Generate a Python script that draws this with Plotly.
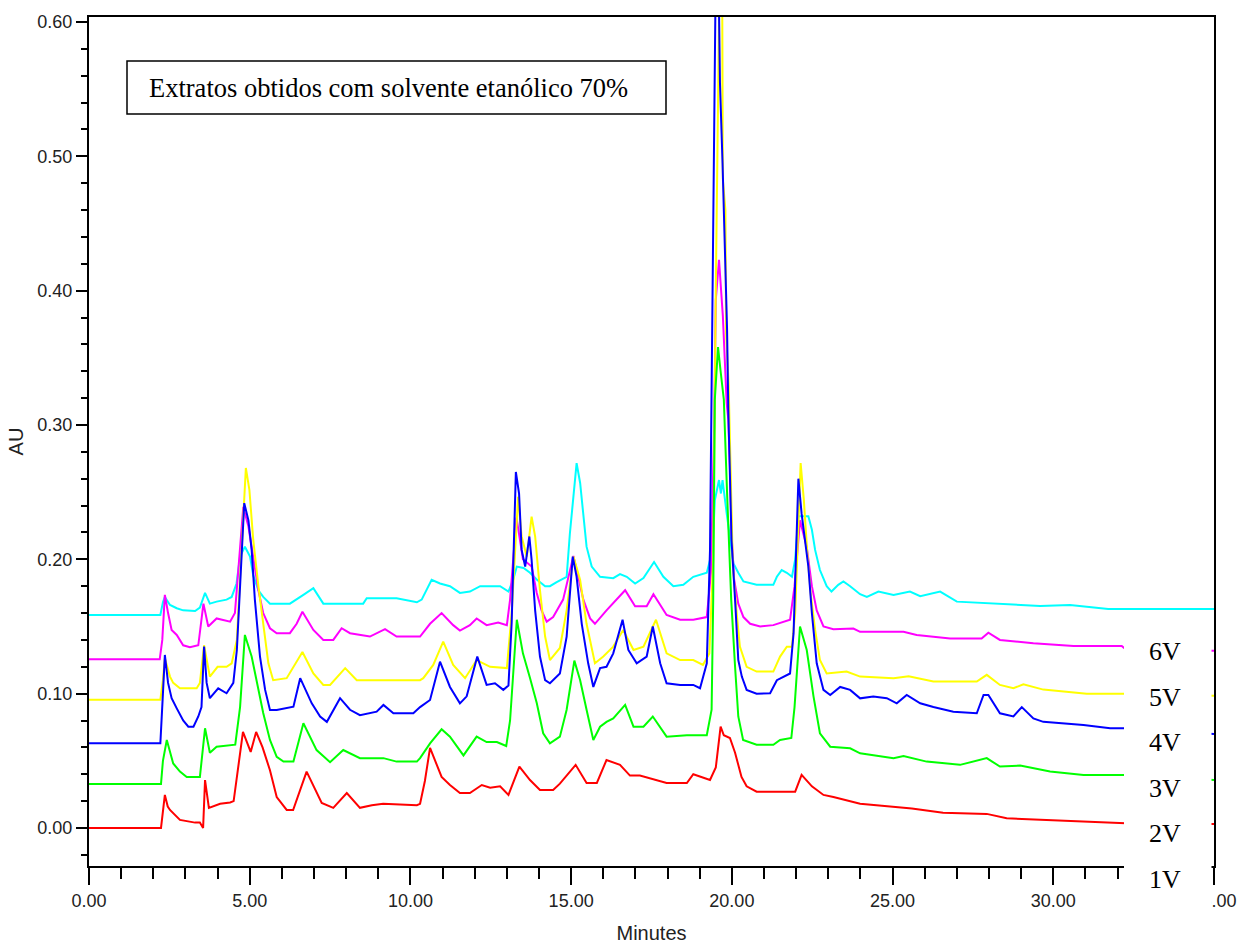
import plotly.graph_objects as go

# ---- data: (time in minutes, absorbance AU) ----
red_2V = [(0, 0.0), (2.24, 0.0), (2.36, 0.0246), (2.45, 0.016), (2.52, 0.0134), (2.83, 0.006), (3.3, 0.004),
          (3.45, 0.004), (3.55, 0.0), (3.61, 0.0357), (3.73, 0.015), (4.08, 0.018), (4.39, 0.019), (4.5, 0.02),
          (4.79, 0.0715), (5.03, 0.0566), (5.2, 0.0715), (5.4, 0.06), (5.63, 0.043), (5.84, 0.023), (6.15, 0.0134),
          (6.35, 0.0134), (6.77, 0.042), (7.24, 0.0186), (7.6, 0.015), (8.02, 0.026), (8.43, 0.015), (8.8, 0.017),
          (9.15, 0.018), (10.2, 0.017), (10.3, 0.018), (10.45, 0.035), (10.61, 0.0596), (10.97, 0.038), (11.23, 0.032),
          (11.54, 0.026), (11.85, 0.026), (12.22, 0.032), (12.48, 0.03), (12.79, 0.031), (13.05, 0.0246), (13.39, 0.0457),
          (13.72, 0.0357), (14.03, 0.0283), (14.44, 0.0283), (14.65, 0.033), (15.14, 0.047), (15.48, 0.0335), (15.8, 0.0335),
          (15.95, 0.042), (16.1, 0.0506), (16.52, 0.047), (16.83, 0.039), (17.14, 0.039), (17.97, 0.0335), (18.6, 0.0335),
          (18.8, 0.040), (19.32, 0.0357), (19.5, 0.045), (19.65, 0.0754), (19.75, 0.069), (19.94, 0.067), (20.1, 0.056),
          (20.3, 0.038), (20.46, 0.031), (20.77, 0.027), (21.97, 0.027), (22.17, 0.0395), (22.49, 0.031), (22.85, 0.0246),
          (23.16, 0.023), (23.99, 0.018), (25.0, 0.016), (25.6, 0.0145), (26.57, 0.0114), (27.93, 0.0105), (28.55, 0.0072),
          (29.8, 0.006), (31.86, 0.0035), (32.25, 0.0035), (35.0, 0.003)]

green_3V = [(0, 0.0328), (2.24, 0.0328), (2.3, 0.05), (2.42, 0.0655), (2.62, 0.048), (2.83, 0.042), (3.04, 0.038),
            (3.45, 0.038), (3.61, 0.0742), (3.76, 0.056), (3.97, 0.0605), (4.55, 0.062), (4.7, 0.09), (4.85, 0.1437),
            (5.06, 0.1276), (5.22, 0.108), (5.42, 0.0856), (5.63, 0.0655), (5.84, 0.053), (6.05, 0.0494), (6.36, 0.0494),
            (6.67, 0.078), (7.08, 0.058), (7.5, 0.049), (7.91, 0.058), (8.43, 0.052), (9.16, 0.052), (9.57, 0.0494),
            (10.2, 0.0494), (10.3, 0.052), (10.61, 0.063), (10.97, 0.0735), (11.23, 0.068), (11.65, 0.054), (12.06, 0.068),
            (12.37, 0.064), (12.69, 0.064), (12.98, 0.061), (13.1, 0.08), (13.31, 0.155), (13.5, 0.13), (13.72, 0.1117),
            (13.93, 0.093), (14.13, 0.0705), (14.34, 0.063), (14.65, 0.068), (14.86, 0.088), (15.1, 0.1246), (15.28, 0.110),
            (15.48, 0.088), (15.69, 0.0655), (15.9, 0.0754), (16.1, 0.079), (16.31, 0.0816), (16.68, 0.0916), (16.94, 0.0754),
            (17.25, 0.0754), (17.54, 0.083), (17.97, 0.068), (18.6, 0.069), (19.22, 0.069), (19.37, 0.088), (19.42, 0.17),
            (19.47, 0.319), (19.57, 0.358), (19.65, 0.34), (19.75, 0.319), (19.85, 0.25), (19.98, 0.17), (20.1, 0.12),
            (20.2, 0.083), (20.35, 0.0655), (20.77, 0.062), (21.29, 0.062), (21.5, 0.0655), (21.85, 0.067), (21.95, 0.09),
            (22.12, 0.15), (22.33, 0.1325), (22.54, 0.098), (22.74, 0.0705), (23.06, 0.0605), (23.68, 0.0593), (23.99, 0.0556),
            (25.03, 0.052), (25.34, 0.0535), (26.06, 0.0494), (27.1, 0.047), (27.93, 0.052), (28.34, 0.0457), (28.97, 0.0465),
            (29.9, 0.042), (30.94, 0.0395), (32.25, 0.0395), (35.0, 0.0357)]

blue_4V = [(0, 0.063), (2.22, 0.063), (2.3, 0.1), (2.36, 0.1288), (2.46, 0.108), (2.57, 0.0966), (2.73, 0.089),
           (2.93, 0.080), (3.09, 0.0754), (3.25, 0.0754), (3.4, 0.083), (3.5, 0.09), (3.58, 0.135), (3.66, 0.108),
           (3.76, 0.0966), (4.02, 0.104), (4.28, 0.1003), (4.49, 0.108), (4.6, 0.1325), (4.83, 0.2418), (4.96, 0.229),
           (5.06, 0.207), (5.16, 0.17), (5.32, 0.1276), (5.48, 0.1028), (5.63, 0.0879), (5.84, 0.0879), (6.36, 0.0903),
           (6.57, 0.1115), (6.93, 0.0928), (7.19, 0.083), (7.4, 0.079), (7.81, 0.0966), (8.12, 0.088), (8.43, 0.084),
           (8.95, 0.0866), (9.16, 0.0916), (9.47, 0.0854), (10.09, 0.0854), (10.3, 0.090), (10.61, 0.0953), (10.92, 0.1238),
           (11.23, 0.105), (11.54, 0.0928), (11.75, 0.098), (12.08, 0.1276), (12.37, 0.1065), (12.63, 0.1077), (12.89, 0.1028),
           (13.05, 0.106), (13.15, 0.153), (13.28, 0.265), (13.38, 0.249), (13.46, 0.207), (13.57, 0.1946), (13.7, 0.217),
           (13.77, 0.1996), (13.88, 0.162), (14.03, 0.1276), (14.19, 0.110), (14.34, 0.1077), (14.65, 0.115), (14.86, 0.1425),
           (15.05, 0.202), (15.17, 0.187), (15.33, 0.152), (15.53, 0.1226), (15.69, 0.105), (15.9, 0.119), (16.1, 0.12),
           (16.31, 0.130), (16.6, 0.155), (16.78, 0.1325), (17.04, 0.1226), (17.35, 0.1276), (17.54, 0.150), (17.77, 0.1226),
           (17.97, 0.1077), (18.39, 0.1065), (18.8, 0.1065), (19.01, 0.104), (19.22, 0.1226), (19.32, 0.207), (19.38, 0.336),
           (19.45, 0.536), (19.5, 0.64), (19.55, 0.70), (19.6, 0.62), (19.63, 0.555), (19.71, 0.495), (19.79, 0.428),
           (19.85, 0.372), (19.89, 0.311), (19.94, 0.257), (19.99, 0.214), (20.1, 0.17), (20.2, 0.125), (20.31, 0.1127),
           (20.46, 0.1028), (20.77, 0.100), (21.19, 0.1003), (21.4, 0.110), (21.6, 0.1127), (21.81, 0.115), (21.92, 0.145),
           (22.07, 0.260), (22.17, 0.234), (22.28, 0.2144), (22.38, 0.1946), (22.49, 0.16), (22.64, 0.1226), (22.85, 0.1028),
           (23.06, 0.099), (23.37, 0.105), (23.68, 0.1028), (23.99, 0.0965), (24.4, 0.0978), (24.82, 0.0966), (25.13, 0.0928),
           (25.44, 0.099), (25.86, 0.0928), (26.27, 0.090), (26.89, 0.0866), (27.62, 0.0854), (27.83, 0.099), (27.98, 0.099),
           (28.34, 0.0854), (28.76, 0.083), (29.02, 0.090), (29.38, 0.0816), (29.69, 0.079), (30.94, 0.0767), (31.77, 0.0742),
           (32.25, 0.0742), (35.0, 0.070)]

yellow_5V = [(0, 0.0955), (2.22, 0.0955), (2.3, 0.11), (2.36, 0.1263), (2.52, 0.1127), (2.62, 0.108), (2.83, 0.104),
             (3.35, 0.104), (3.45, 0.108), (3.58, 0.136), (3.76, 0.1127), (4.0, 0.120), (4.28, 0.120), (4.44, 0.1226),
             (4.6, 0.14), (4.88, 0.268), (4.99, 0.2517), (5.11, 0.2144), (5.27, 0.18), (5.42, 0.15), (5.58, 0.1226),
             (5.73, 0.110), (6.15, 0.1115), (6.64, 0.131), (6.98, 0.115), (7.29, 0.1065), (7.5, 0.1065), (7.97, 0.119),
             (8.33, 0.110), (10.3, 0.110), (10.4, 0.1115), (10.71, 0.1214), (11.02, 0.1387), (11.33, 0.1214), (11.7, 0.1115),
             (12.06, 0.125), (12.48, 0.12), (13.0, 0.119), (13.15, 0.16), (13.35, 0.2466), (13.46, 0.217), (13.62, 0.202),
             (13.77, 0.2317), (13.88, 0.217), (14.03, 0.177), (14.19, 0.1425), (14.34, 0.125), (14.65, 0.134), (14.86, 0.162),
             (15.07, 0.202), (15.28, 0.1847), (15.48, 0.152), (15.74, 0.1226), (16.0, 0.1276), (16.31, 0.135), (16.62, 0.1474),
             (16.94, 0.1325), (17.25, 0.135), (17.64, 0.155), (17.97, 0.130), (18.39, 0.125), (18.8, 0.125), (19.1, 0.1214),
             (19.3, 0.13), (19.42, 0.2), (19.5, 0.4), (19.57, 0.58), (19.63, 0.66), (19.7, 0.62), (19.72, 0.4825), (19.8, 0.46),
             (19.82, 0.3686), (19.9, 0.33), (19.95, 0.27), (20.03, 0.195), (20.15, 0.16), (20.25, 0.135), (20.46, 0.12),
             (20.77, 0.1164), (21.29, 0.1164), (21.5, 0.1276), (21.71, 0.135), (21.87, 0.135), (21.97, 0.16), (22.14, 0.2716),
             (22.24, 0.244), (22.34, 0.207), (22.45, 0.175), (22.59, 0.1474), (22.74, 0.125), (22.95, 0.115), (23.57, 0.1164),
             (23.99, 0.1127), (25.03, 0.1115), (25.5, 0.113), (26.27, 0.109), (27.62, 0.109), (27.93, 0.114), (28.34, 0.1065),
             (28.76, 0.104), (29.07, 0.107), (29.69, 0.103), (31.04, 0.100), (32.25, 0.100), (35.0, 0.0985)]

magenta_6V = [(0, 0.1256), (2.2, 0.1256), (2.28, 0.14), (2.36, 0.1735), (2.46, 0.16), (2.57, 0.1474), (2.73, 0.1437),
              (2.93, 0.136), (3.14, 0.1345), (3.4, 0.136), (3.56, 0.167), (3.71, 0.15), (3.97, 0.156), (4.18, 0.155),
              (4.39, 0.1536), (4.54, 0.16), (4.65, 0.1946), (4.8, 0.239), (4.96, 0.2244), (5.11, 0.1996), (5.27, 0.177),
              (5.42, 0.16), (5.63, 0.1487), (5.84, 0.145), (6.25, 0.145), (6.46, 0.152), (6.64, 0.161), (6.98, 0.1474),
              (7.29, 0.14), (7.6, 0.14), (7.86, 0.1487), (8.12, 0.145), (8.74, 0.1425), (9.21, 0.148), (9.57, 0.1425),
              (10.3, 0.1425), (10.61, 0.152), (10.97, 0.160), (11.33, 0.151), (11.54, 0.147), (11.85, 0.151), (12.06, 0.156),
              (12.37, 0.151), (12.73, 0.153), (13.0, 0.151), (13.1, 0.17), (13.3, 0.231), (13.5, 0.2), (13.77, 0.1946),
              (13.93, 0.175), (14.08, 0.162), (14.24, 0.1536), (14.44, 0.157), (14.75, 0.17), (15.07, 0.2025), (15.22, 0.187),
              (15.38, 0.17), (15.59, 0.156), (15.74, 0.152), (16.1, 0.162), (16.68, 0.177), (16.99, 0.165), (17.35, 0.165),
              (17.56, 0.174), (17.97, 0.1586), (18.39, 0.155), (18.8, 0.155), (19.22, 0.157), (19.35, 0.19), (19.45, 0.3),
              (19.5, 0.393), (19.6, 0.423), (19.72, 0.381), (19.84, 0.316), (19.89, 0.304), (19.94, 0.269), (19.99, 0.219),
              (20.07, 0.185), (20.2, 0.167), (20.36, 0.157), (20.57, 0.152), (20.88, 0.15), (21.29, 0.151), (21.81, 0.155),
              (21.95, 0.18), (22.12, 0.229), (22.2, 0.222), (22.33, 0.209), (22.49, 0.18), (22.64, 0.162), (22.85, 0.15),
              (23.16, 0.148), (23.78, 0.1485), (23.99, 0.146), (25.34, 0.146), (25.75, 0.1437), (26.79, 0.141), (27.77, 0.141),
              (27.98, 0.1454), (28.34, 0.14), (29.38, 0.1375), (30.63, 0.1355), (32.13, 0.1355), (32.25, 0.133), (35.0, 0.132)]

cyan_trace = [(0, 0.1586), (2.22, 0.1586), (2.3, 0.168), (2.36, 0.172), (2.52, 0.166), (2.73, 0.1636), (2.93, 0.162),
              (3.3, 0.1615), (3.45, 0.164), (3.61, 0.175), (3.76, 0.167), (3.97, 0.1685), (4.28, 0.17), (4.44, 0.172),
              (4.59, 0.182), (4.7, 0.202), (4.85, 0.2094), (5.01, 0.202), (5.11, 0.188), (5.27, 0.177), (5.42, 0.172),
              (5.63, 0.167), (6.25, 0.167), (6.46, 0.17), (6.67, 0.1735), (6.98, 0.1785), (7.29, 0.167), (8.53, 0.167),
              (8.64, 0.171), (9.57, 0.171), (10.2, 0.168), (10.35, 0.17), (10.66, 0.1847), (10.92, 0.182), (11.23, 0.18),
              (11.54, 0.175), (11.85, 0.176), (12.17, 0.18), (12.79, 0.18), (13.05, 0.176), (13.2, 0.185), (13.31, 0.1946),
              (13.52, 0.1936), (13.72, 0.19), (13.93, 0.185), (14.19, 0.18), (14.34, 0.18), (14.55, 0.183), (14.86, 0.187),
              (14.96, 0.219), (15.17, 0.2716), (15.28, 0.2568), (15.38, 0.232), (15.48, 0.2094), (15.64, 0.1946), (15.9, 0.187),
              (16.31, 0.186), (16.52, 0.189), (16.73, 0.187), (16.99, 0.182), (17.25, 0.186), (17.58, 0.198), (17.87, 0.187),
              (18.18, 0.18), (18.49, 0.181), (18.8, 0.187), (19.22, 0.19), (19.4, 0.207), (19.47, 0.244), (19.6, 0.259),
              (19.66, 0.249), (19.71, 0.259), (19.84, 0.234), (19.94, 0.2144), (20.05, 0.197), (20.2, 0.19), (20.36, 0.1835),
              (20.77, 0.181), (21.29, 0.181), (21.4, 0.187), (21.55, 0.192), (21.71, 0.19), (21.87, 0.187), (21.97, 0.2),
              (22.07, 0.232), (22.38, 0.232), (22.49, 0.222), (22.59, 0.207), (22.74, 0.192), (22.95, 0.18), (23.1, 0.176),
              (23.31, 0.181), (23.47, 0.1835), (23.68, 0.18), (23.99, 0.174), (24.2, 0.172), (24.56, 0.176), (25.03, 0.1735),
              (25.54, 0.176), (25.86, 0.1725), (26.48, 0.176), (27.0, 0.1685), (28.34, 0.167), (29.59, 0.1653), (30.52, 0.166),
              (31.71, 0.163), (35.0, 0.163)]

series_colors = {"cyan": "#00FFFF", "6V": "#FF00FF", "5V": "#FFFF00", "4V": "#0000FF", "3V": "#00FF00", "2V": "#FF0000"}
series_data = {"cyan": cyan_trace, "6V": magenta_6V, "5V": yellow_5V, "4V": blue_4V, "3V": green_3V, "2V": red_2V}

trace_labels = ["6V", "5V", "4V", "3V", "2V", "1V"]
label_y_px = [651, 697, 742, 788, 833, 879]

x_ticks = [0, 5, 10, 15, 20, 25, 30, 35]
title_text = "Extratos obtidos com solvente etanólico 70%"

# ---- figure ----
W, H = 1240, 944
L, R, T, B = 89, 26, 17, 78
PW, PH = W - L - R, H - T - B


def px_x(px):
    return (px - L) / PW


def px_y(py):
    return (H - B - py) / PH


fig = go.Figure()
for key in ["cyan", "6V", "5V", "4V", "3V", "2V"]:
    pts = series_data[key]
    fig.add_trace(go.Scatter(x=[p[0] for p in pts], y=[p[1] for p in pts], mode="lines",
                             line=dict(color=series_colors[key], width=2), showlegend=False,
                             hoverinfo="skip"))

tick_font = dict(family="Liberation Sans, Arial, sans-serif", size=18, color="#222")
title_font = dict(family="Liberation Sans, Arial, sans-serif", size=20, color="#222")

fig.update_layout(
    width=W, height=H,
    margin=dict(l=L, r=R, t=T, b=B, pad=0),
    paper_bgcolor="white", plot_bgcolor="white",
    xaxis=dict(range=[0, 35], tickvals=x_ticks, tickformat=".2f", ticks="outside", ticklen=17,
               tickwidth=2, tickcolor="black", showline=True, linecolor="black", linewidth=2,
               mirror=True, showgrid=False, zeroline=False, tickfont=tick_font, automargin=False,
               minor=dict(dtick=1, ticks="outside", ticklen=11, tickwidth=2, tickcolor="black"),
               title=dict(text="Minutes", font=title_font, standoff=20)),
    yaxis=dict(range=[-0.0283, 0.6037], tick0=0, dtick=0.1, tickformat=".2f", ticks="outside", ticklen=11,
               tickwidth=2, tickcolor="black", showline=True, linecolor="black", linewidth=2,
               mirror=True, showgrid=False, zeroline=False, tickfont=tick_font, automargin=False,
               minor=dict(dtick=0.02, ticks="outside", ticklen=6, tickwidth=2, tickcolor="black"),
               title=dict(text="AU", font=title_font, standoff=8)),
)

# white panel hiding the end of the traces/axis behind the sample labels
fig.add_shape(type="rect", xref="paper", yref="paper", x0=px_x(1124), x1=px_x(1211.5),
              y0=px_y(912), y1=px_y(624), fillcolor="white", line=dict(width=0), layer="above")

# title box
fig.add_shape(type="rect", xref="paper", yref="paper", x0=px_x(127), x1=px_x(666),
              y0=px_y(114), y1=px_y(61), fillcolor="white", line=dict(color="black", width=1.5), layer="above")
fig.add_annotation(xref="paper", yref="paper", x=px_x(147), y=px_y(88), xanchor="left", yanchor="middle",
                   text=title_text, showarrow=False,
                   font=dict(family="Liberation Serif, Times New Roman, serif", size=26.5, color="black"))

for lab, ypx in zip(trace_labels, label_y_px):
    fig.add_annotation(xref="paper", yref="paper", x=px_x(1147), y=px_y(ypx), xanchor="left", yanchor="middle",
                       text=lab, showarrow=False,
                       font=dict(family="Liberation Serif, Times New Roman, serif", size=26, color="black"))

fig.write_html("out.html")
